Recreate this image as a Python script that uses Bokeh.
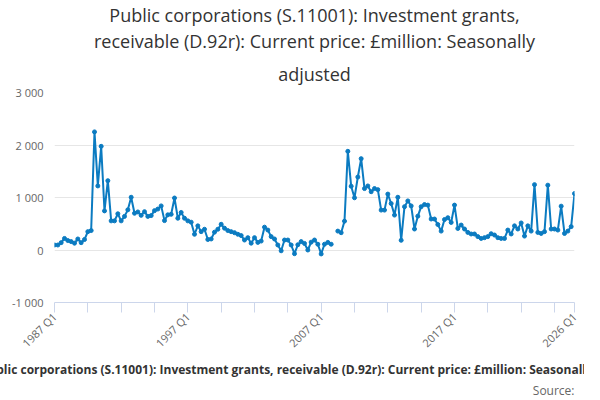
import math
import numpy as np
from bokeh.plotting import figure
from bokeh.models import Title, FixedTicker, CustomJSTickFormatter, Range1d
from bokeh.embed import file_html
from bokeh.resources import INLINE

# 季度数据 1987 Q1 - 2026 Q1 (2008 Q1 缺失)
start_year = 1987
values = [
    95, 95, 140, 220, 180, 160, 130, 210, 140, 200,
    350, 370, 2250, 1220, 1975, 745, 1320, 555, 555, 690,
    555, 640, 765, 1005, 700, 725, 660, 730, 640, 655,
    750, 780, 840, 560, 670, 680, 990, 605, 715, 605,
    555, 530, 300, 460, 350, 395, 200, 210, 340, 395,
    490, 415, 370, 350, 330, 300, 275, 190, 235, 130,
    235, 145, 170, 435, 380, 255, 210, 95, -15, 190,
    190, 95, -70, 100, 160, 125, 0, 150, 190, 110,
    -75, 110, 145, 110, None, 360, 330, 550, 1880, 1215,
    995, 1390, 1740, 1170, 1220, 1110, 1170, 1150, 760, 760,
    1065, 885, 665, 1005, 185, 825, 935, 840, 400, 645,
    825, 865, 855, 590, 590, 485, 360, 580, 615, 525,
    855, 410, 475, 400, 335, 305, 305, 255, 220, 235,
    255, 310, 285, 235, 220, 220, 380, 305, 460, 400,
    515, 265, 460, 360, 1245, 335, 315, 350, 1235, 400,
    400, 380, 835, 315, 360, 445, 1075,
]
label_quarters = [0, 40, 80, 120, 156]

title_lines = [
    "Public corporations (S.11001): Investment grants,",
    "receivable (D.92r): Current price: £million: Seasonally",
    "adjusted",
]
footer = ("Public corporations (S.11001): Investment grants, receivable (D.92r): "
          "Current price: £million: Seasonally adjusted")

x = np.arange(len(values))
y = np.array([np.nan if v is None else v for v in values], dtype=float)

blue = "#0b7bc1"
font = "Open Sans"

p = figure(frame_width=520, frame_height=210, output_backend="svg", toolbar_location=None,
           x_range=Range1d(0, len(values) - 1), y_range=Range1d(-1000, 3000),
           min_border_left=54, min_border_right=10, min_border_top=0, min_border_bottom=0,
           title=None)

p.line(x, y, color=blue, line_width=2)
p.scatter(x, y, color=blue, size=4)

# 标题
for i, t in enumerate(reversed(title_lines)):
    p.add_layout(Title(text=t, align="center", text_font=font, text_font_size="18px",
                       text_font_style="normal", text_color="#333333",
                       standoff=14 if i == 0 else 0, offset=0), "above")
p.add_layout(Title(text=footer, align="center", text_font=font, text_font_size="12px",
                   text_font_style="bold", text_color="#333333", standoff=0), "below")
p.add_layout(Title(text="Source:", align="right", text_font=font, text_font_size="12px",
                   text_font_style="normal", text_color="#666666", standoff=4), "below")

# x 轴
ticks = list(range(0, 151, 10)) + [156]
p.xaxis.ticker = FixedTicker(ticks=ticks)
p.xaxis.major_label_overrides = {
    t: (f"{start_year + t // 4} Q{t % 4 + 1}" if t in label_quarters else "") for t in ticks
}
p.xaxis.major_label_orientation = math.pi / 4
p.xaxis.major_label_text_font = font
p.xaxis.major_label_text_font_size = "11px"
p.xaxis.major_label_text_color = "#666666"
p.xaxis.axis_line_color = "#ccd6eb"
p.xaxis.major_tick_line_color = "#ccd6eb"
p.xaxis.major_tick_out = 10
p.xaxis.major_tick_in = 0
p.xaxis.major_label_standoff = 2
p.xaxis.minor_tick_line_color = None
p.xgrid.grid_line_color = None

# y 轴
p.yaxis.ticker = FixedTicker(ticks=[-1000, 0, 1000, 2000, 3000])
p.yaxis.formatter = CustomJSTickFormatter(code="""
    var s = Math.abs(tick).toString().replace(/\\B(?=(\\d{3})+(?!\\d))/g, ' ');
    return (tick < 0 ? '-' : '') + s;
""")
p.yaxis.axis_line_color = None
p.yaxis.major_tick_line_color = None
p.yaxis.minor_tick_line_color = None
p.yaxis.major_label_text_font = font
p.yaxis.major_label_text_font_size = "11px"
p.yaxis.major_label_text_color = "#666666"
p.ygrid.grid_line_color = "#e6e6e6"

p.outline_line_color = None

open("out.html", "w").write(file_html(p, INLINE))
